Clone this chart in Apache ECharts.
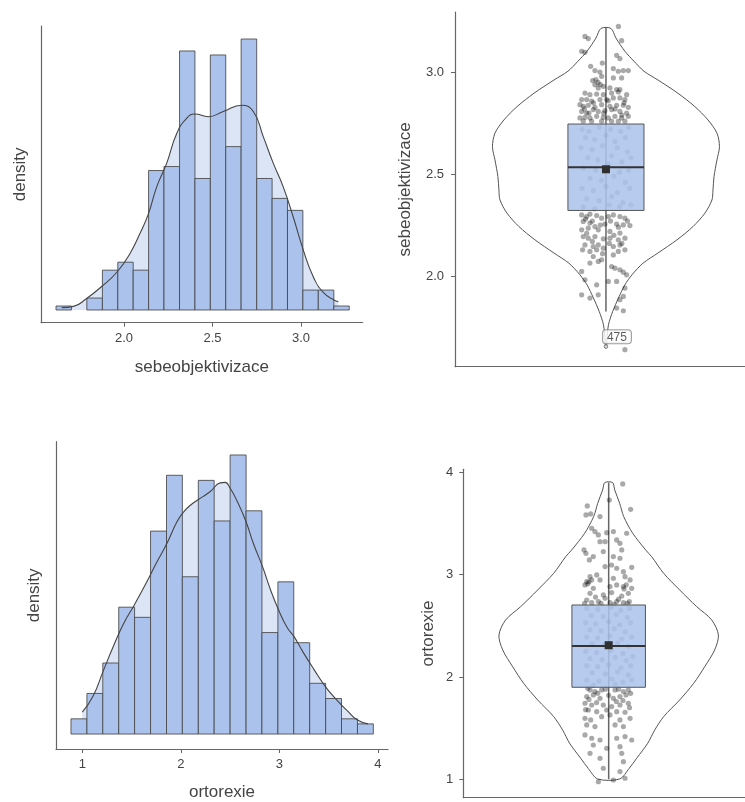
<!DOCTYPE html>
<html><head><meta charset="utf-8">
<script src="https://cdn.jsdelivr.net/npm/echarts@6/dist/echarts.min.js"></script>
<style>html,body{margin:0;padding:0;background:#fff}#c{width:745px;height:802px}</style>
</head><body><div id="c"></div>
<script>
// ---------- sebeobjektivizace histogram ----------
const sebeEdges = [1.616,1.703,1.790,1.878,1.965,2.052,2.139,2.226,2.314,2.401,2.488,2.575,2.662,2.750,2.837,2.924,3.011,3.098,3.186,3.273];
const sebeCounts = [1,0,3,10,12,10,35,36,65,33,64,41,68,33,28,25,5,5,1];
const sebeDensX = [1.648,1.714,1.789,1.874,1.962,2.034,2.090,2.137,2.185,2.241,2.298,2.354,2.401,2.476,2.561,2.665,2.731,2.787,2.844,2.900,2.956,3.013,3.069,3.126,3.192,3.211];
const sebeDensY = [0.6,0.9,2.9,5.9,9.6,14.2,19.2,24.0,30.9,36.8,44.3,48.1,49.2,48.5,49.8,51.4,49.8,43.5,36.8,30.9,23.4,15.1,8.4,4.4,2.4,2.1];
const sebeTicks = [2.0, 2.5, 3.0];
// ---------- sebeobjektivizace violin ----------
const sebeViolinVals = [3.215,3.168,3.103,3.054,3.005,2.962,2.897,2.831,2.766,2.701,2.635,2.570,2.488,2.423,2.374,2.309,2.243,2.178,2.113,2.063,2.006,1.957,1.892,1.826,1.761,1.700,1.650];
const sebeViolinWidths = [0.044,0.088,0.167,0.247,0.335,0.458,0.634,0.784,0.899,0.978,1.0,0.978,0.952,0.943,0.934,0.872,0.767,0.626,0.458,0.326,0.229,0.167,0.110,0.059,0.022,0.009,0.005];
const sebeBox = {q1:2.322, median:2.534, q3:2.746, lo:1.826, hi:3.217, mean:2.524};
const sebeOutlier = [1.654];
const sebeOutlierLabel = ['475'];
const sebeJitter = [
[0.11,3.225],[-0.185,3.176],[-0.156,3.165],[0.138,3.155],[-0.214,3.103],[-0.185,3.098],[0.094,3.083],[0.123,3.067],[-0.032,3.045],[-0.135,3.029],
[-0.097,3.008],[-0.053,3.001],[0.065,3.018],[0.109,3.005],[0.153,3.008],[0.197,3.008],[-0.117,2.959],[-0.088,2.964],[-0.038,2.98],[0.065,2.972],
[0.138,2.972],[-0.097,2.939],[-0.068,2.923],[-0.023,2.931],[0.035,2.923],[0.094,2.915],[0.123,2.915],[-0.185,2.898],[-0.141,2.89],[-0.082,2.893],
[-0.023,2.89],[0.05,2.898],[0.109,2.903],[0.182,2.89],[-0.214,2.866],[-0.17,2.866],[-0.126,2.858],[-0.053,2.866],[0.006,2.866],[0.065,2.874],
[0.123,2.874],[0.167,2.866],[-0.229,2.841],[-0.2,2.833],[-0.156,2.838],[-0.097,2.828],[-0.038,2.841],[0.035,2.833],[0.094,2.838],[0.153,2.838],
[0.197,2.828],[-0.214,2.808],[-0.17,2.8],[-0.112,2.817],[-0.068,2.808],[-0.009,2.812],[0.05,2.817],[0.123,2.808],[0.182,2.8],[-0.229,2.776],
[-0.185,2.779],[-0.141,2.776],[-0.082,2.784],[-0.023,2.779],[0.021,2.776],[0.079,2.784],[0.138,2.776],[0.197,2.784],[-0.2,2.76],[-0.126,2.76],
[-0.038,2.76],[0.05,2.76],[0.109,2.76],[0.167,2.76],
[-0.07,2.95],[-0.05,2.94],[0.02,2.86],[-0.11,2.85],[0.08,2.82],[-0.15,2.80],[0.14,2.79],[-0.02,2.80],[-0.19,2.82],[0.16,2.85],
[-0.21,2.72],[-0.15,2.71],[-0.06,2.73],[0.04,2.72],[0.13,2.71],[0.2,2.73],[-0.18,2.68],[-0.1,2.67],[0.0,2.69],[0.08,2.66],[0.17,2.68],
[-0.22,2.63],[-0.12,2.62],[-0.03,2.64],[0.1,2.63],[0.19,2.61],[-0.16,2.58],[-0.07,2.57],[0.05,2.59],[0.14,2.56],[0.22,2.58],
[-0.2,2.53],[-0.09,2.52],[0.02,2.55],[0.12,2.51],[0.2,2.52],[-0.14,2.48],[-0.04,2.47],[0.07,2.49],[0.17,2.46],
[-0.21,2.43],[-0.11,2.42],[0.0,2.44],[0.1,2.41],[0.21,2.43],[-0.17,2.38],[-0.06,2.37],[0.05,2.39],[0.15,2.36],
[-0.2,2.34],[-0.1,2.33],[0.03,2.35],[0.12,2.34],[0.22,2.35],
[-0.214,2.30],[-0.17,2.292],[-0.141,2.304],[-0.082,2.297],[-0.038,2.284],[0.021,2.292],[0.065,2.30],[0.123,2.292],[0.167,2.284],[0.211,2.248],
[-0.2,2.268],[-0.141,2.26],[-0.097,2.243],[-0.009,2.255],[0.094,2.255],[0.153,2.251],[-0.214,2.227],[-0.156,2.235],[-0.068,2.227],[0.035,2.219],
[0.123,2.211],[-0.2,2.194],[-0.156,2.186],[-0.097,2.194],[-0.023,2.183],[0.035,2.186],[0.109,2.178],[0.167,2.186],[-0.185,2.153],[-0.112,2.145],
[-0.068,2.153],[0.065,2.145],[0.123,2.153],[-0.206,2.129],[-0.141,2.121],[-0.082,2.129],[-0.023,2.137],[0.065,2.104],[0.109,2.121],[0.167,2.129],
[-0.112,2.096],[-0.068,2.072],[-0.038,2.08],[-0.141,2.064],[0.079,2.039],[0.123,2.031],[0.05,2.047],[0.153,2.019],[-0.214,2.023],[-0.185,1.982],
[0.021,1.974],[0.182,2.006],[0.094,1.974],[-0.082,1.957],[0.167,1.941],[-0.214,1.908],[-0.141,1.892],[-0.068,1.908],[0.123,1.884],[0.153,1.9],
[0.094,1.843],[0.153,1.83],[0.167,1.639],
[-0.18,2.28],[-0.12,2.27],[0.04,2.27],[0.19,2.27],[-0.05,2.25],[0.11,2.24],[-0.17,2.21],[0.07,2.20],[-0.12,2.17],[0.14,2.16],[-0.03,2.11],[0.03,2.16]
];
// ---------- ortorexie histogram ----------
const ortoEdges = [0.885,1.047,1.208,1.370,1.531,1.693,1.855,2.016,2.178,2.339,2.501,2.663,2.824,2.986,3.147,3.309,3.471,3.632,3.794,3.955];
const ortoCounts = [3,8,14,25,23,40,51,31,50,42,55,44,20,30,18,10,7,3,2];
const ortoDensX = [1.00,1.11,1.21,1.32,1.42,1.53,1.65,1.76,1.86,1.96,2.03,2.11,2.20,2.30,2.40,2.45,2.50,2.57,2.66,2.74,2.83,2.91,2.99,3.08,3.15,3.24,3.35,3.47,3.58,3.69,3.79,3.90];
const ortoDensY = [4.3,7.5,12.3,17.5,21.8,25.5,29.8,34.0,37.6,41.8,43.8,45.3,46.5,47.8,49.5,49.6,48.5,46.0,42.0,37.4,33.0,28.5,24.6,21.0,19.2,16.2,12.8,9.3,6.8,4.6,2.8,2.0];
const ortoTicks = [1, 2, 3, 4];
// ---------- ortorexie violin ----------
const ortoViolinVals = [3.899,3.827,3.697,3.567,3.404,3.241,3.175,3.013,2.850,2.687,2.557,2.410,2.264,2.100,1.938,1.775,1.612,1.480,1.352,1.205,1.107,1.003];
const ortoViolinWidths = [0.036,0.055,0.100,0.137,0.219,0.337,0.392,0.501,0.647,0.802,0.939,1.0,0.966,0.875,0.775,0.647,0.501,0.419,0.356,0.255,0.187,0.100];
const ortoBox = {q1:1.899, median:2.303, q3:2.703, lo:1.0, hi:3.9, mean:2.31};
const ortoJitter = [
[0.128,3.886],[0.006,3.729],[0.2,3.638],[-0.195,3.671],[-0.207,3.583],[-0.164,3.593],[-0.079,3.567],[-0.155,3.453],[-0.125,3.42],[-0.094,3.388],
[-0.018,3.41],[0.043,3.42],[0.164,3.404],[0.073,3.339],[0.103,3.306],[-0.079,3.322],[-0.033,3.322],[-0.225,3.241],[-0.207,3.208],[-0.14,3.176],
[-0.176,3.143],[-0.049,3.225],[0.119,3.241],[0.043,3.176],[0.103,3.16],[-0.033,3.078],[0.027,3.094],[0.073,3.062],[0.21,3.071],[0.134,3.029],
[-0.109,2.997],[-0.17,2.98],[-0.2,2.931],[-0.155,2.948],[-0.079,2.948],[0.043,2.964],[0.149,2.98],[0.195,2.948],[-0.216,2.899],[-0.14,2.866],
[0.012,2.883],[0.073,2.899],[0.134,2.883],[0.21,2.866],[-0.17,2.817],[-0.049,2.801],[0.027,2.824],[0.119,2.791],[0.179,2.817],[-0.2,2.752],
[-0.155,2.726],[-0.094,2.736],[-0.033,2.769],[0.012,2.726],[0.073,2.736],[0.134,2.726],[0.188,2.736],
[-0.19,2.91],[-0.18,2.93],[0.14,2.86],[0.16,2.90],[-0.12,2.78],[0.09,2.76],[-0.07,2.72],[0.17,2.72],[-0.22,2.72],[0.05,2.71],
[-0.2,2.67],[-0.1,2.66],[0.02,2.68],[0.11,2.65],[0.19,2.67],[-0.16,2.6],[-0.05,2.59],[0.07,2.61],[0.17,2.58],
[-0.21,2.53],[-0.12,2.52],[0.0,2.54],[0.1,2.51],[0.2,2.53],[-0.17,2.46],[-0.07,2.45],[0.05,2.47],[0.15,2.44],
[-0.2,2.39],[-0.1,2.38],[0.01,2.4],[0.12,2.37],[0.21,2.39],[-0.15,2.32],[-0.04,2.31],[0.08,2.33],[0.18,2.3],
[-0.21,2.25],[-0.11,2.24],[0.02,2.26],[0.13,2.23],[-0.17,2.18],[-0.06,2.17],[0.06,2.19],[0.16,2.16],[0.22,2.2],
[-0.2,2.11],[-0.1,2.1],[0.0,2.12],[0.11,2.09],[0.2,2.11],[-0.15,2.04],[-0.03,2.03],[0.08,2.05],[0.18,2.02],
[-0.2,1.97],[-0.09,1.96],[0.03,1.98],[0.13,1.95],[0.21,1.97],[-0.14,1.92],[0.06,1.93],
[-0.17,1.873],[-0.125,1.857],[-0.064,1.873],[0.058,1.873],[0.134,1.857],[0.179,1.873],[-0.2,1.808],[-0.14,1.824],[-0.079,1.791],[0.043,1.791],
[0.103,1.808],[0.158,1.824],[-0.216,1.743],[-0.155,1.726],[-0.049,1.726],[0.027,1.71],[0.103,1.726],[0.179,1.743],[-0.185,1.677],[-0.109,1.661],
[-0.018,1.677],[0.073,1.661],[0.149,1.655],[-0.216,1.596],[-0.164,1.58],[-0.064,1.612],[0.012,1.629],[0.103,1.58],[0.195,1.596],[-0.2,1.531],
[-0.125,1.515],[0.058,1.531],[0.134,1.515],[-0.216,1.433],[-0.155,1.401],[-0.079,1.384],[0.073,1.401],[0.149,1.417],[0.21,1.384],[-0.14,1.335],
[-0.018,1.303],[0.103,1.319],[-0.17,1.254],[0.119,1.254],[-0.079,1.205],[0.134,1.172],[-0.049,1.108],[0.103,1.075],[0.149,1.01],[-0.094,0.977],
[0.043,0.993],
[-0.19,1.89],[-0.03,1.88],[0.09,1.88],[0.2,1.84],[-0.1,1.84],[0.0,1.82],[-0.18,1.78],[0.13,1.77],[-0.11,1.75],[0.07,1.76],[0.19,1.70],[-0.21,1.68]
];
const boxHalf = 0.335;

// ---------- render helpers ----------
const FONT = 'Liberation Sans, Arial, Helvetica, sans-serif';
const BAR_FILL = '#abc3ec', AREA_FILL = '#dce5f6';
function histData(edges, counts){ return counts.map((c,i)=>[edges[i], edges[i+1], c]); }
function histRender(params, api){
  const c = api.value(2);
  if (!c) return null;
  const p0 = api.coord([api.value(0), 0]);
  const p1 = api.coord([api.value(1), c]);
  return {type:'rect', shape:{x:p0[0], y:p1[1], width:p1[0]-p0[0], height:p0[1]-p1[1]},
    style:{fill:BAR_FILL, stroke:'rgba(70,70,70,0.85)', lineWidth:1}};
}
function violinRender(vals, widths){
  return function(params, api){
    const pts = [];
    for (let i=0;i<vals.length;i++) pts.push(api.coord([widths[i], vals[i]]));
    for (let i=vals.length-1;i>=0;i--) pts.push(api.coord([-widths[i], vals[i]]));
    return {type:'polygon', shape:{points:pts, smooth:0.3}, style:{fill:'#fff', stroke:'#555', lineWidth:1}};
  };
}
function whiskerRender(b){
  return function(params, api){
    const a = api.coord([0, b.lo]), c = api.coord([0, b.hi]);
    return {type:'line', shape:{x1:a[0], y1:a[1], x2:c[0], y2:c[1]}, style:{stroke:'#666', lineWidth:1.5}};
  };
}
function boxRender(b){
  return function(params, api){
    const a = api.coord([-boxHalf, b.q3]), c = api.coord([boxHalf, b.q1]);
    const m0 = api.coord([-boxHalf, b.median]), m1 = api.coord([boxHalf, b.median]);
    const mn = api.coord([0, b.mean]);
    return {type:'group', children:[
      {type:'rect', shape:{x:a[0], y:a[1], width:c[0]-a[0], height:c[1]-a[1]}, style:{fill:'rgba(171,195,236,0.86)', stroke:'#555', lineWidth:1}},
      {type:'line', shape:{x1:m0[0], y1:m0[1], x2:m1[0], y2:m1[1]}, style:{stroke:'#333', lineWidth:2}},
      {type:'rect', shape:{x:mn[0]-4, y:mn[1]-4, width:8, height:8}, style:{fill:'#2f2f2f'}}
    ]};
  };
}
function histXAxis(idx, min, max, ticks, name, gap, fmt){
  return {gridIndex:idx, type:'value', min:min, max:max, name:name, nameLocation:'middle', nameGap:gap,
    nameTextStyle:{fontSize:17, color:'#444', fontFamily:FONT},
    axisLine:{onZero:false, lineStyle:{color:'#666', width:1.2}},
    axisTick:{show:true, customValues:ticks, length:4, lineStyle:{color:'#666'}},
    axisLabel:{customValues:ticks, formatter:fmt, color:'#444', fontSize:13, fontFamily:FONT, margin:9},
    splitLine:{show:false}};
}
function plainYAxis(idx, min, max, name, gap){
  return {gridIndex:idx, type:'value', min:min, max:max, name:name, nameLocation:'middle', nameGap:gap,
    nameTextStyle:{fontSize:17, color:'#444', fontFamily:FONT},
    axisLine:{show:true, onZero:false, lineStyle:{color:'#666', width:1.2}}, axisTick:{show:false}, axisLabel:{show:false}, splitLine:{show:false}};
}
function violinXAxis(idx, min, max){
  return {gridIndex:idx, type:'value', min:min, max:max, axisLine:{onZero:false, lineStyle:{color:'#666', width:1.2}},
    axisTick:{show:false}, axisLabel:{show:false}, splitLine:{show:false}};
}
function violinYAxis(idx, min, max, ticks, name, gap, fmt, margin){
  return {gridIndex:idx, type:'value', min:min, max:max, name:name, nameLocation:'middle', nameGap:gap,
    nameTextStyle:{fontSize:17, color:'#444', fontFamily:FONT},
    axisLine:{show:true, onZero:false, lineStyle:{color:'#666', width:1.2}},
    axisTick:{show:true, customValues:ticks, length:4, lineStyle:{color:'#666'}},
    axisLabel:{customValues:ticks, formatter:fmt, color:'#444', fontSize:13, fontFamily:FONT, margin:margin},
    splitLine:{show:false}};
}
const f1 = v => Number(v).toFixed(1);
const f0 = v => String(Math.round(v));

const chart = echarts.init(document.getElementById('c'), null, {renderer:'canvas'});
chart.setOption({
  animation:false,
  backgroundColor:'#fff',
  textStyle:{fontFamily:FONT},
  grid:[
    {left:41, top:26, width:321.7, height:296.7},
    {left:455, top:12, width:290, height:354.7},
    {left:56, top:441.7, width:332, height:308.3},
    {left:463.3, top:469.3, width:281.7, height:328.4}
  ],
  xAxis:[
    histXAxis(0, 1.531, 3.349, sebeTicks, 'sebeobjektivizace', 36, f1),
    violinXAxis(1, -1.330, 1.225),
    histXAxis(2, 0.733, 4.104, ortoTicks, 'ortorexie', 35, f0),
    violinXAxis(3, -1.325, 1.2425)
  ],
  yAxis:[
    plainYAxis(0, -3.19, 71.27, 'density', 12),
    violinYAxis(1, 1.5554, 3.2956, sebeTicks, 'sebeobjektivizace', 41, f1, 11),
    plainYAxis(2, -2.95, 57.62, 'density', 13),
    violinYAxis(3, 0.82, 4.029, ortoTicks, 'ortorexie', 26, f0, 10)
  ],
  series:[
    {type:'line', xAxisIndex:0, yAxisIndex:0, z:1, smooth:true, showSymbol:false, silent:true,
     data:sebeDensX.map((x,i)=>[x, sebeDensY[i]]), lineStyle:{width:0}, areaStyle:{color:AREA_FILL, opacity:1, origin:0}},
    {type:'custom', xAxisIndex:0, yAxisIndex:0, z:2, renderItem:histRender, data:histData(sebeEdges, sebeCounts)},
    {type:'line', xAxisIndex:0, yAxisIndex:0, z:3, smooth:true, showSymbol:false, silent:true,
     data:sebeDensX.map((x,i)=>[x, sebeDensY[i]]), lineStyle:{color:'#444', width:1.1}},
    {type:'custom', xAxisIndex:1, yAxisIndex:1, z:1, renderItem:violinRender(sebeViolinVals, sebeViolinWidths), data:[[0, 2.5]], clip:false},
    {type:'custom', xAxisIndex:1, yAxisIndex:1, z:2, renderItem:whiskerRender(sebeBox), data:[[0, 2.5]]},
    {type:'scatter', xAxisIndex:1, yAxisIndex:1, z:3, symbolSize:5.2, data:sebeJitter,
     itemStyle:{color:'rgba(0,0,0,0.42)'}},
    {type:'custom', xAxisIndex:1, yAxisIndex:1, z:4, renderItem:boxRender(sebeBox), data:[[0, 2.5]]},
    {type:'scatter', xAxisIndex:1, yAxisIndex:1, z:5, symbolSize:3.5, data:sebeOutlier.map(v=>[0, v]),
     itemStyle:{color:'#fff', borderColor:'#555', borderWidth:1},
     label:{show:true, position:'top', distance:1, offset:[11, 0], formatter:()=>sebeOutlierLabel[0],
       fontSize:12, color:'#333', fontFamily:FONT, backgroundColor:'#fff', borderColor:'#888', borderWidth:1,
       borderRadius:3, padding:[1,4,0,4]}},
    {type:'line', xAxisIndex:2, yAxisIndex:2, z:1, smooth:true, showSymbol:false, silent:true,
     data:ortoDensX.map((x,i)=>[x, ortoDensY[i]]), lineStyle:{width:0}, areaStyle:{color:AREA_FILL, opacity:1, origin:0}},
    {type:'custom', xAxisIndex:2, yAxisIndex:2, z:2, renderItem:histRender, data:histData(ortoEdges, ortoCounts)},
    {type:'line', xAxisIndex:2, yAxisIndex:2, z:3, smooth:true, showSymbol:false, silent:true,
     data:ortoDensX.map((x,i)=>[x, ortoDensY[i]]), lineStyle:{color:'#444', width:1.1}},
    {type:'custom', xAxisIndex:3, yAxisIndex:3, z:1, renderItem:violinRender(ortoViolinVals, ortoViolinWidths), data:[[0, 2.5]], clip:false},
    {type:'custom', xAxisIndex:3, yAxisIndex:3, z:2, renderItem:whiskerRender(ortoBox), data:[[0, 2.5]]},
    {type:'scatter', xAxisIndex:3, yAxisIndex:3, z:3, symbolSize:5.2, data:ortoJitter,
     itemStyle:{color:'rgba(0,0,0,0.42)'}},
    {type:'custom', xAxisIndex:3, yAxisIndex:3, z:4, renderItem:boxRender(ortoBox), data:[[0, 2.5]]}
  ]
});
</script></body></html>
